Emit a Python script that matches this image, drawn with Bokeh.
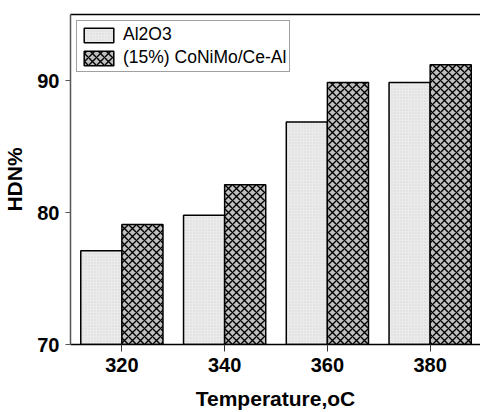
from bokeh.plotting import figure
from bokeh.models import ColumnDataSource, Range1d, FixedTicker, LinearAxis, Legend, LegendItem
from bokeh.transform import dodge
from bokeh.embed import file_html
from bokeh.resources import INLINE

temperatures = [320, 340, 360, 380]
al2o3 = [77.1, 79.8, 86.85, 89.85]
conimo = [79.1, 82.1, 89.85, 91.2]
series_names = ["Al2O3", "(15%) CoNiMo/Ce-Al"]

src = ColumnDataSource(dict(t=temperatures, a=al2o3, c=conimo))

FONT = "Liberation Sans"

p = figure(width=480, height=412, output_backend="svg", toolbar_location=None,
           x_range=Range1d(310, 389.8), y_range=Range1d(70, 95))
p.min_border_left = 69
p.min_border_right = 0
p.min_border_top = 14
p.min_border_bottom = 67
p.outline_line_color = None
p.grid.grid_line_color = None
p.background_fill_color = "white"

r1 = p.vbar(x=dodge("t", -4, range=p.x_range), top="a", bottom=70, width=8, source=src,
            fill_color="#ebebeb", line_color="black", line_width=1.5,
            hatch_pattern="dot", hatch_color="#d6d6d6", hatch_scale=3, hatch_weight=1)
r2 = p.vbar(x=dodge("t", 4, range=p.x_range), top="c", bottom=70, width=8, source=src,
            fill_color="#c0c0c0", line_color="black", line_width=1.5,
            hatch_pattern="diagonal_cross", hatch_color="black", hatch_scale=8, hatch_weight=1.4)

for ax in (p.xaxis[0], p.yaxis[0]):
    ax.major_label_text_font = FONT
    ax.major_label_text_font_style = "bold"
    ax.major_label_text_font_size = "20px"
    ax.major_label_text_color = "black"
    ax.axis_label_text_font = FONT
    ax.axis_label_text_font_style = "bold"
    ax.axis_label_text_font_size = "21px"
    ax.axis_label_text_color = "black"
    ax.minor_tick_line_color = None
    ax.major_tick_in = 0
    ax.axis_line_width = 1.5

p.xaxis[0].ticker = FixedTicker(ticks=temperatures)
p.xaxis[0].axis_label = "Temperature,oC"
p.xaxis[0].major_tick_out = 7
p.xaxis[0].axis_line_color = "black"
p.xaxis[0].major_tick_line_color = "#333333"
p.xaxis[0].major_label_standoff = 6
p.xaxis[0].axis_label_standoff = 12

p.yaxis[0].ticker = FixedTicker(ticks=[70, 80, 90])
p.yaxis[0].axis_label = "HDN%"
p.yaxis[0].major_tick_out = 5
p.yaxis[0].axis_line_color = "#555555"
p.yaxis[0].major_tick_line_color = "#555555"
p.yaxis[0].major_label_standoff = 6
p.yaxis[0].axis_label_standoff = 8

top_axis = LinearAxis(ticker=FixedTicker(ticks=[]), major_tick_line_color=None,
                      minor_tick_line_color=None, axis_line_color="black",
                      axis_line_width=1.5)
p.add_layout(top_axis, "above")

legend = Legend(items=[LegendItem(label=series_names[0], renderers=[r1]),
                       LegendItem(label=series_names[1], renderers=[r2])],
                location="top_left")
legend.label_text_font = FONT
legend.label_text_font_size = "17.5px"
legend.label_text_color = "black"
legend.glyph_width = 37
legend.glyph_height = 18
legend.spacing = 2
legend.padding = 3
legend.margin = 6
legend.label_standoff = 6
legend.border_line_color = "#444444"
legend.border_line_width = 1
legend.label_height = 18
p.add_layout(legend)

open("out.html", "w").write(file_html(p, INLINE))
